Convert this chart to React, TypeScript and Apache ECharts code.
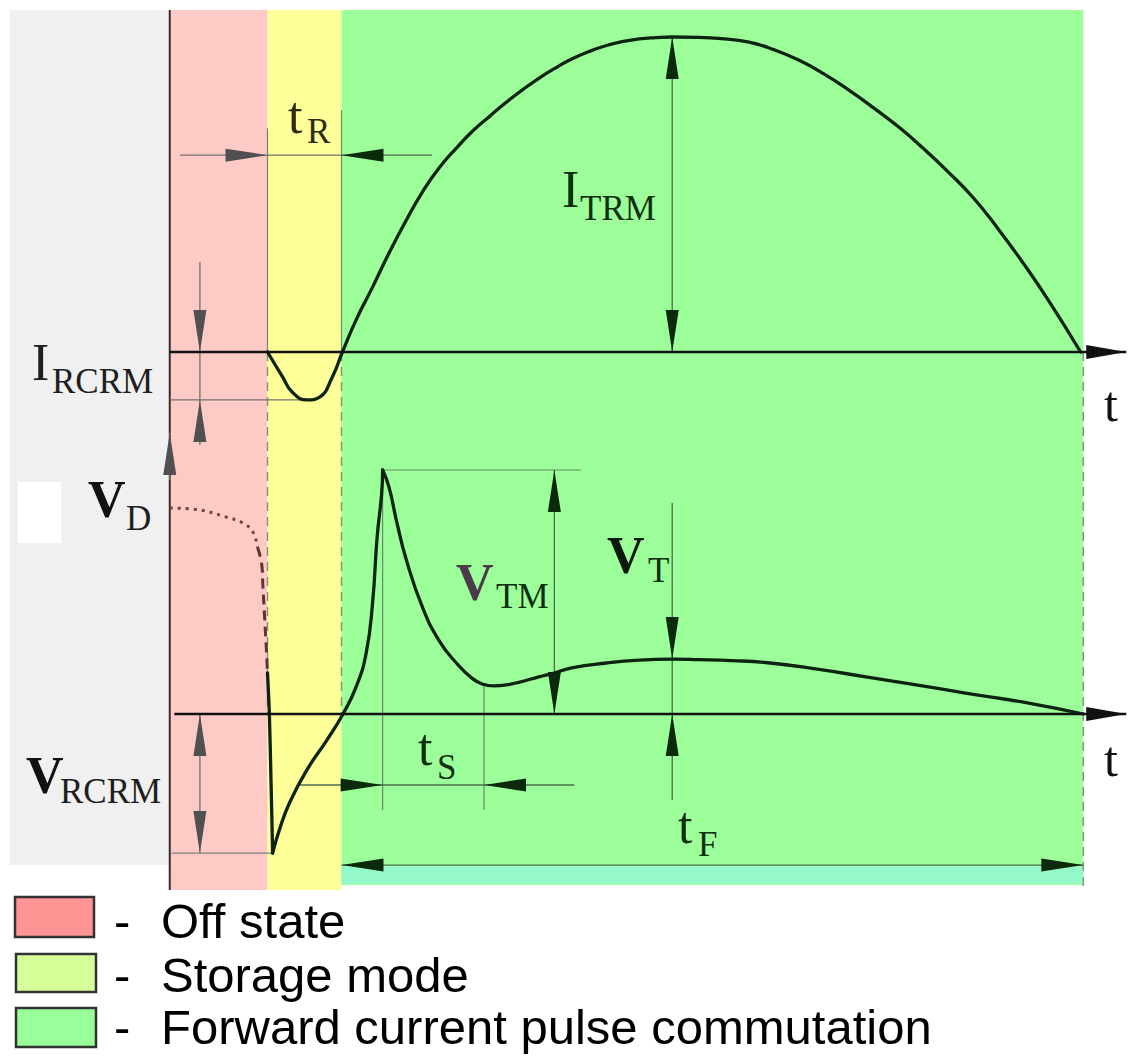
import React, { useEffect, useRef } from "react";
import * as echarts from "echarts";

// ================= DATA =================
// time in arbitrary units: 0 = start of off state, 100 = end of the forward current pulse
const PHASE_START = [-17.5, 0, 10.7, 18.8, 18.8]; // lead-in, off state, storage mode, forward commutation, tF strip
const PHASE_END = [0, 10.7, 18.8, 100, 100];
const LEGEND_LABELS = ["Off state", "Storage mode", "Forward current pulse commutation"];

// thyristor current, I_TRM = 100
const I_CURVE: number[][] = [
  [10.7, 0], [12.35, -7.9], [13.4, -12.7], [15.0, -15.2], [16.4, -14.3], [17.8, -7.9], [18.9, 0],
  [20.4, 10.2], [22.2, 20.6], [24.0, 31.4], [25.9, 41.9], [27.7, 51.0], [29.5, 58.5], [31.4, 64.8],
  [33.1, 70.0], [35.0, 74.8], [36.8, 79.2], [38.6, 83.2], [40.4, 86.9], [42.3, 90.3], [44.0, 93.0],
  [45.9, 95.4], [47.8, 97.3], [49.5, 98.5], [51.4, 99.4], [53.2, 99.8], [55.0, 100], [57.9, 99.9],
  [60.7, 99.4], [63.4, 98.4], [66.1, 96.0], [68.9, 92.6], [71.6, 88.3], [74.3, 83.2], [77.0, 77.6],
  [79.8, 71.4], [82.5, 64.6], [85.2, 57.2], [88.0, 48.8], [90.7, 39.0], [93.4, 28.3], [96.2, 16.3],
  [99.7, 0],
];

// thyristor voltage, V_TM = 100
const V_PRIOR_DOTTED: number[][] = [[0, 84.4], [3.3, 83.6], [6.2, 80.7], [8.0, 78.3], [9.1, 74.6], [9.6, 68.4]];
const V_PRIOR_DASHED: number[][] = [[9.6, 68.4], [10.05, 61.9], [10.2, 52.0], [10.4, 38.5], [10.6, 25.0], [10.7, 16.8]];
const V_FALL: number[][] = [[10.7, 16.8], [10.9, 0.4], [11.1, -30], [11.26, -57.0]];
const V_RISE: number[][] = [
  [11.26, -57.0], [12.0, -47.5], [13.1, -36.5], [15.0, -23.0], [17.2, -10.7], [18.9, -0.4],
  [20.4, 11.1], [21.5, 25.0], [22.2, 45.5], [22.7, 72.5], [23.2, 90.6], [23.3, 100],
];
const V_DECAY: number[][] = [
  [23.3, 100], [24.0, 93.0], [24.8, 79.5], [25.9, 63.1], [27.65, 43.9], [29.5, 30.0], [31.4, 20.8],
  [33.1, 14.6], [34.2, 12.3], [35.5, 11.5], [36.8, 11.9], [38.3, 13.1], [40.4, 15.2], [42.1, 16.8],
  [44.0, 18.9], [47.8, 20.9], [51.4, 22.1], [55.0, 22.5], [57.9, 22.3], [61.5, 21.9], [65.2, 21.1],
  [70.7, 18.5], [76.2, 15.2], [81.7, 11.9], [87.1, 8.6], [94.3, 4.3], [100, 0],
];

// characteristic values
const T_STORAGE = 10.7, T_FORWARD = 18.8, T_END = 100;
const I_TRM = 100, T_ITRM = 55.0;
const I_RCRM = -15.2, T_IRCRM = 14.8;
const V_TM = 100, T_VTM = 23.3;
const V_T = 22.5, T_VT = 55.0;
const V_RCRM = -57.0, T_VRCRM = 11.26;
const V_MIN_AFTER = 12.0, T_S_END = 34.4;

// ================= LAYOUT =================
const X0 = 170, KX = 9.15, XMIN = -17.5, XMAX = 105;
const I0 = 352, KI = 3.15, IMIN = -30, IMAX = 110;
const V0 = 714, KV = 2.44, VMIN = -75, VMAX = 120;
const GL = X0 + XMIN * KX, GW = (XMAX - XMIN) * KX;
const T_TIP = 104.7; // arrow tip of the time axes
const BAND_TOP = [10, 10, 10, 10, 866];
const BAND_BOTTOM = [865, 890, 890, 885, 884];
const BAND_COLORS = ["#f0f0f0", "#fdcac6", "#ffff99", "#9cff99", "#95f8c8"];
const SWATCH_COLORS = ["#ff9494", "#d6ff99", "#99ff99"];

const CURVE = "#0c2410";
const SERIF = '"Liberation Serif", "Times New Roman", serif';
const SANS = '"Liberation Sans", Arial, sans-serif';

type Style = { line: string; head: string; width: number; headLen: number; headW: number; dash?: number[]; z?: number };
const DARK: Style = { line: "#4d6b4d", head: "#0b2a0b", width: 1.3, headLen: 42, headW: 13 };
const GRAY: Style = { line: "#707070", head: "#505050", width: 1.3, headLen: 42, headW: 13 };
const AXIS: Style = { line: "#111", head: "#111", width: 2.5, headLen: 40, headW: 14, z: 7 };
const EXT_G: Style = { line: "#6a8a6a", head: "#000", width: 1.2, headLen: 0, headW: 0 };
const EXT_GRAY: Style = { line: "#808080", head: "#000", width: 1.2, headLen: 0, headW: 0 };
const DASHED: Style = { line: "#7f9a72", head: "#000", width: 1.5, headLen: 0, headW: 0, dash: [9, 6] };
const LEFT_LINE: Style = { line: "#3a2c2c", head: "#000", width: 2, headLen: 0, headW: 0 };

// annotation segments [x1, y1, x2, y2, headAtStart, headAtEnd]
const I_DARK = [
  [28.7, 62.5, T_FORWARD, 62.5, 0, 1],
  [T_ITRM, 0, T_ITRM, I_TRM, 1, 1],
];
const I_GRAY = [
  [1.1, 62.5, T_STORAGE, 62.5, 0, 1],
  [T_STORAGE, 62.5, T_FORWARD, 62.5, 0, 0],
  [3.3, 28.6, 3.3, 0, 0, 1],
  [3.3, -29.5, 3.3, I_RCRM, 0, 1],
  [3.3, 0, 3.3, I_RCRM, 0, 0],
  [0, I_RCRM, T_IRCRM, I_RCRM, 0, 0],
];
const I_EXT = [
  [T_STORAGE, 71, T_STORAGE, 0, 0, 0],
  [T_FORWARD, 76.8, T_FORWARD, 0, 0, 0],
];
const V_DARK = [
  [14.2, -29.1, T_VTM, -29.1, 0, 1],
  [44.3, -29.1, T_S_END, -29.1, 0, 1],
  [T_VTM, -29.1, T_S_END, -29.1, 0, 0],
  [42.1, 0, 42.1, V_TM, 1, 1],
  [T_VT, 86.5, T_VT, V_T, 0, 1],
  [T_VT, -35.2, T_VT, 0, 0, 1],
  [T_VT, V_T, T_VT, 0, 0, 0],
  [T_FORWARD, -61.9, T_END, -61.9, 1, 1],
];
const V_GRAY = [[3.3, 0, 3.3, V_RCRM, 1, 1]];
const V_EXT = [
  [T_VTM, V_TM, 45.0, V_TM, 0, 0],
  [T_VTM, V_TM, T_VTM, -39.3, 0, 0],
  [T_S_END, V_MIN_AFTER, T_S_END, -39.3, 0, 0],
];
const V_EXT_GRAY = [[0.2, V_RCRM, T_VRCRM, V_RCRM, 0, 0]];
const AXIS_I = [[0, 0, T_TIP, 0, 0, 1]];
const AXIS_V = [[0.5, 0, T_TIP, 0, 0, 1]];
// page-space (grid 0, y in px) lines
const P_DASHED = [
  [T_STORAGE, I0, T_STORAGE, V0, 0, 0],
  [T_FORWARD, I0, T_FORWARD, V0, 0, 0],
  [T_END, I0, T_END, 890, 0, 0],
];
const P_LEFT = [[0, 10, 0, 890, 0, 0]];
const P_UP = [[0, 480, 0, 433, 0, 1]];

function arrowSeries(grid: number, rows: number[][], st: Style) {
  return {
    type: "custom",
    xAxisIndex: grid,
    yAxisIndex: grid,
    z: st.z ?? 4,
    silent: true,
    data: rows,
    encode: { x: [0, 2], y: [1, 3] },
    renderItem: (_p: any, api: any) => {
      const p1 = api.coord([api.value(0), api.value(1)]);
      const p2 = api.coord([api.value(2), api.value(3)]);
      const kids: any[] = [
        {
          type: "line",
          shape: { x1: p1[0], y1: p1[1], x2: p2[0], y2: p2[1] },
          style: { stroke: st.line, lineWidth: st.width, lineDash: st.dash || null, fill: null },
        },
      ];
      const head = (from: number[], tip: number[]) => {
        const dx = tip[0] - from[0], dy = tip[1] - from[1];
        const L = Math.hypot(dx, dy) || 1;
        const ux = dx / L, uy = dy / L;
        const bx = tip[0] - ux * st.headLen, by = tip[1] - uy * st.headLen;
        const w = st.headW / 2;
        return {
          type: "polygon",
          shape: { points: [[tip[0], tip[1]], [bx - uy * w, by + ux * w], [bx + uy * w, by - ux * w]] },
          style: { fill: st.head },
        };
      };
      if (api.value(4)) kids.push(head(p2, p1));
      if (api.value(5)) kids.push(head(p1, p2));
      return { type: "group", children: kids };
    },
  };
}

function curve(grid: number, data: number[][], extra: any = {}) {
  return {
    type: "line",
    xAxisIndex: grid,
    yAxisIndex: grid,
    data,
    showSymbol: false,
    smooth: extra.smooth ?? 0.5,
    clip: false,
    silent: true,
    z: 6,
    lineStyle: { color: CURVE, width: 3.3, cap: "round", join: "round", ...(extra.lineStyle || {}) },
  };
}

function txt(text: string, x: number, baseline: number, size: number, fill: string, bold = false, family = SERIF) {
  return {
    type: "text",
    x,
    y: baseline - 0.34 * size,
    z: 50,
    silent: true,
    style: { text, fill, fontSize: size, fontFamily: family, fontWeight: bold ? "bold" : "normal", align: "left", verticalAlign: "middle" },
  };
}

const MAIN = 52, SUB = 35, VBIG = 52;
const TXT_L = "#1e1e1e", TXT_G = "#0f2f0f";

const graphicEls: any[] = [
  { type: "rect", shape: { x: 18, y: 482, width: 43, height: 61 }, style: { fill: "#ffffff" }, z: 40, silent: true },
  txt("t", 288, 133, MAIN, "#2c2c12"), txt("R", 307, 143, SUB, "#2c2c12"),
  txt("I", 562, 207, MAIN, TXT_G), txt("TRM", 580, 220, SUB, TXT_G),
  txt("I", 32, 380, MAIN, TXT_L), txt("RCRM", 52, 393, SUB, TXT_L),
  txt("V", 88, 517, VBIG, "#111", true), txt("D", 126, 530, SUB, TXT_L),
  txt("V", 456, 600, VBIG, "#4a3a4a", true), txt("TM", 496, 608, SUB, TXT_G),
  txt("V", 607, 573, VBIG, "#0a1a0a", true), txt("T", 648, 582, SUB, TXT_G),
  txt("V", 26, 793, VBIG, "#111", true), txt("RCRM", 60, 803, SUB, TXT_L),
  txt("t", 418, 765, MAIN, TXT_G), txt("S", 437, 779, SUB, TXT_G),
  txt("t", 678, 843, MAIN, TXT_G), txt("F", 698, 856, SUB, TXT_G),
  txt("t", 1104, 421, 50, "#111"), txt("t", 1104, 776, 50, "#111"),
];
const SW = [
  { x: 15, y: 897, w: 79, h: 40, base: 938 },
  { x: 16, y: 954, w: 80, h: 38, base: 992 },
  { x: 16, y: 1008, w: 80, h: 39, base: 1044 },
];
LEGEND_LABELS.forEach((lab, i) => {
  const s = SW[i];
  graphicEls.push({
    type: "rect",
    shape: { x: s.x, y: s.y, width: s.w, height: s.h },
    style: { fill: SWATCH_COLORS[i], stroke: "#333", lineWidth: 2.5 },
    z: 40,
    silent: true,
  });
  graphicEls.push(txt("-", 114, s.base, 49, "#000", false, SANS));
  graphicEls.push(txt(lab, 161, s.base, 49, "#000", false, SANS));
});

const option: any = {
  animation: false,
  backgroundColor: "#ffffff",
  grid: [
    { left: GL, width: GW, top: 0, height: 1056 },
    { left: GL, width: GW, top: I0 - IMAX * KI, height: (IMAX - IMIN) * KI },
    { left: GL, width: GW, top: V0 - VMAX * KV, height: (VMAX - VMIN) * KV },
  ],
  xAxis: [0, 1, 2].map((g) => ({ type: "value", gridIndex: g, min: XMIN, max: XMAX, show: false })),
  yAxis: [
    { type: "value", gridIndex: 0, min: 0, max: 1056, inverse: true, show: false },
    { type: "value", gridIndex: 1, min: IMIN, max: IMAX, show: false },
    { type: "value", gridIndex: 2, min: VMIN, max: VMAX, show: false },
  ],
  series: [
    {
      type: "custom",
      xAxisIndex: 0,
      yAxisIndex: 0,
      z: 1,
      silent: true,
      data: PHASE_START.map((s, i) => [s, PHASE_END[i], BAND_TOP[i], BAND_BOTTOM[i]]),
      encode: { x: [0, 1], y: [2, 3] },
      renderItem: (params: any, api: any) => {
        const a = api.coord([api.value(0), api.value(2)]);
        const b = api.coord([api.value(1), api.value(3)]);
        return {
          type: "rect",
          shape: { x: a[0], y: a[1], width: b[0] - a[0], height: b[1] - a[1] },
          style: { fill: BAND_COLORS[params.dataIndex] },
        };
      },
    },
    arrowSeries(0, P_DASHED, DASHED),
    arrowSeries(0, P_LEFT, LEFT_LINE),
    arrowSeries(0, P_UP, GRAY),
    arrowSeries(1, I_EXT, EXT_G),
    arrowSeries(1, I_GRAY, GRAY),
    arrowSeries(1, I_DARK, DARK),
    arrowSeries(1, AXIS_I, AXIS),
    arrowSeries(2, V_EXT, EXT_G),
    arrowSeries(2, V_EXT_GRAY, EXT_GRAY),
    arrowSeries(2, V_GRAY, GRAY),
    arrowSeries(2, V_DARK, DARK),
    arrowSeries(2, AXIS_V, AXIS),
    curve(1, I_CURVE),
    curve(2, V_PRIOR_DOTTED, { smooth: 0.4, lineStyle: { color: "#7b4040", width: 3, type: [3, 5], cap: "butt" } }),
    curve(2, V_PRIOR_DASHED, { smooth: 0.4, lineStyle: { color: "#5e3434", width: 3, type: [10, 6], cap: "butt" } }),
    curve(2, V_FALL, { smooth: 0.3 }),
    curve(2, V_RISE),
    curve(2, V_DECAY),
  ],
  graphic: { elements: graphicEls },
};

export default function App() {
  const ref = useRef<HTMLDivElement>(null);
  useEffect(() => {
    const chart = echarts.init(ref.current!, null, { renderer: "svg" });
    chart.setOption(option);
    return () => chart.dispose();
  }, []);
  return (
    <div
      ref={ref}
      style={{ position: "absolute", left: 0, top: 0, width: 1129, height: 1056, background: "#ffffff" }}
    />
  );
}
